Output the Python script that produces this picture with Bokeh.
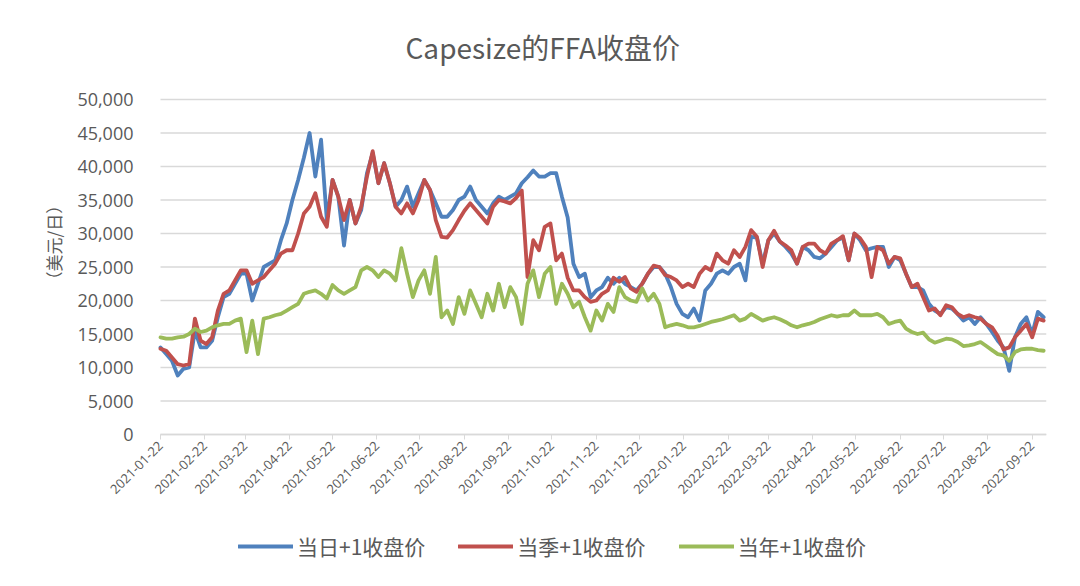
import pandas as pd
from math import pi
from bokeh.plotting import figure
from bokeh.models import (Range1d, FixedTicker, DatetimeTickFormatter, NumeralTickFormatter,
                          Legend, LegendItem, ColumnDataSource, Title)
from bokeh.embed import file_html
from bokeh.resources import INLINE

title_text = "Capesize的FFA收盘价"
y_label = "（美元/日）"
series_names = ["当日+1收盘价", "当季+1收盘价", "当年+1收盘价"]
series_colors = ["#4F81BD", "#C0504D", "#9BBB59"]

start_date = "2021-01-22"
step_days = 4
x_end = "2022-10-02"

tick_labels = ["2021-01-22", "2021-02-22", "2021-03-22", "2021-04-22", "2021-05-22",
               "2021-06-22", "2021-07-22", "2021-08-22", "2021-09-22", "2021-10-22",
               "2021-11-22", "2021-12-22", "2022-01-22", "2022-02-22", "2022-03-22",
               "2022-04-22", "2022-05-22", "2022-06-22", "2022-07-22", "2022-08-22",
               "2022-09-22"]
y_ticks = [0, 5000, 10000, 15000, 20000, 25000, 30000, 35000, 40000, 45000, 50000]

# values in thousand USD/day, one every 4 days
front_month_k = [
    13.0, 12.0, 11.0, 8.8, 9.8, 10.0, 15.5, 13.0, 13.0, 14.0,
    17.5, 20.5, 21.0, 22.5, 24.0, 24.0, 20.0, 22.5, 25.0, 25.5,
    26.0, 29.0, 31.5, 35.0, 38.0, 41.3, 45.0, 38.5, 44.0, 32.0,
    38.0, 35.5, 28.2, 35.0, 31.5, 33.5, 39.0, 42.0, 37.5, 40.5,
    37.5, 34.0, 35.0, 37.0, 34.0, 36.0, 38.0, 36.5, 34.5, 32.5,
    32.5, 33.5, 35.0, 35.5, 37.0, 35.0, 34.0, 33.0, 34.5, 35.5,
    35.0, 35.5, 36.0, 37.5, 38.4, 39.4, 38.5, 38.5, 39.0, 39.0,
    35.5, 32.4, 25.5, 23.5, 24.0, 20.5, 21.5, 22.0, 23.4, 22.5,
    23.4, 22.5, 22.0, 21.5, 22.5, 24.0, 25.0, 25.0, 24.0, 22.0,
    19.5, 18.0, 17.5, 18.8, 17.0, 21.5, 22.5, 24.0, 24.5, 24.0,
    25.0, 25.5, 23.0, 29.5, 29.4, 25.5, 29.0, 30.0, 28.8, 28.0,
    27.0, 25.5, 28.0, 27.5, 26.5, 26.3, 27.0, 28.0, 29.0, 29.4,
    26.0, 30.0, 29.0, 27.5, 27.8, 28.0, 28.0, 25.0, 26.5, 26.0,
    24.0, 22.0, 22.0, 21.5, 19.5, 18.5, 18.0, 19.0, 18.8, 18.0,
    17.0, 17.5, 16.5, 17.5, 16.5, 15.3, 14.0, 13.0, 9.5, 14.5,
    16.5, 17.5, 15.0, 18.3, 17.5,
]
front_quarter_k = [
    12.8, 12.5, 11.5, 10.5, 10.3, 10.5, 17.3, 14.0, 13.5, 14.5,
    18.5, 21.0, 21.5, 23.0, 24.5, 24.5, 22.5, 23.0, 23.5, 24.5,
    25.5, 27.0, 27.5, 27.5, 30.0, 33.0, 34.0, 36.0, 32.5, 31.0,
    38.0, 35.5, 32.0, 35.0, 31.5, 34.0, 38.5, 42.3, 37.5, 40.5,
    37.5, 34.0, 33.0, 34.5, 33.0, 35.0, 38.0, 36.5, 32.0, 29.5,
    29.4, 30.5, 32.0, 33.4, 34.5, 33.5, 32.5, 31.5, 34.0, 35.0,
    34.8, 34.5, 35.3, 36.4, 23.5, 29.0, 27.5, 31.0, 31.5, 26.0,
    27.0, 23.4, 21.5, 21.5, 20.5, 19.8, 20.0, 21.0, 21.5, 23.4,
    22.8, 23.5, 21.8, 21.3, 22.5, 24.0, 25.2, 25.0, 23.8, 23.5,
    23.0, 22.0, 22.5, 22.0, 24.0, 25.0, 24.5, 27.0, 26.0, 25.5,
    27.5, 26.5, 28.0, 30.5, 29.5, 25.0, 29.0, 30.4, 28.8, 28.2,
    27.5, 25.5, 28.0, 28.5, 28.5, 27.5, 27.0, 28.5, 29.0, 29.6,
    26.0, 30.0, 29.3, 28.0, 23.5, 28.0, 27.5, 25.5, 26.5, 26.3,
    24.0, 22.0, 22.5, 20.5, 18.5, 18.8, 17.8, 19.3, 19.0, 18.0,
    17.5, 17.8, 17.5, 17.3, 16.5, 16.0, 14.7, 12.7, 13.0, 14.5,
    15.5, 16.5, 14.5, 17.3, 17.0,
]
front_year_k = [
    14.5, 14.3, 14.3, 14.5, 14.6, 15.0, 15.8, 15.3, 15.5, 16.0,
    16.3, 16.5, 16.5, 17.0, 17.3, 12.3, 17.0, 12.0, 17.3, 17.5,
    17.8, 18.0, 18.5, 19.0, 19.5, 21.0, 21.3, 21.5, 21.0, 20.3,
    22.3, 21.5, 21.0, 21.5, 22.0, 24.5, 25.0, 24.5, 23.5, 24.5,
    24.0, 23.0, 27.8, 24.0, 20.5, 23.0, 24.5, 21.0, 26.5, 17.5,
    18.5, 16.5, 20.5, 18.0, 21.5, 19.5, 17.5, 21.0, 18.5, 22.5,
    19.0, 22.0, 20.5, 16.5, 22.5, 24.5, 20.5, 24.0, 25.0, 19.5,
    22.5, 21.0, 19.0, 19.8, 17.5, 15.5, 18.5, 17.0, 19.5, 18.3,
    22.0, 20.5, 20.0, 19.8, 21.8, 20.0, 21.0, 19.5, 16.0, 16.3,
    16.5, 16.3, 16.0, 16.0, 16.2, 16.5, 16.8, 17.0, 17.2, 17.5,
    17.8, 17.0, 17.3, 18.0, 17.5, 17.0, 17.3, 17.5, 17.2, 16.8,
    16.3, 16.0, 16.3, 16.5, 16.8, 17.2, 17.5, 17.8, 17.6, 17.8,
    17.8, 18.5, 17.8, 17.8, 17.8, 18.0, 17.5, 16.5, 16.8, 17.0,
    15.8, 15.3, 15.0, 15.2, 14.2, 13.7, 14.0, 14.3, 14.2, 13.8,
    13.2, 13.3, 13.5, 13.8, 13.2, 12.6, 12.0, 11.8, 11.0, 12.3,
    12.7, 12.8, 12.8, 12.6, 12.5,
]

n = len(front_month_k)
dates = pd.date_range(start_date, periods=n, freq=f"{step_days}D")
src = ColumnDataSource(dict(
    date=dates,
    m=[v * 1000 for v in front_month_k],
    q=[v * 1000 for v in front_quarter_k],
    y=[v * 1000 for v in front_year_k],
))

FONT_CJK = "Noto Sans CJK SC"
TXT = "#595959"
GRID = "#D9D9D9"

# Layout: the frame is extended left of the first date, above the top tick and
# below zero, so value labels, rotated date labels and the legend are inside it.
data_w, data_h = 886, 335
extra_left, extra_above, extra_below = 90, 10, 144
y_top_tick = 50000
t0, t1 = pd.Timestamp(start_date), pd.Timestamp(x_end)
span = t1 - t0
x_start = t0 - span * (extra_left / data_w)
y_bottom = -y_top_tick * extra_below / data_h
y_top = y_top_tick * (1 + extra_above / data_h)

p = figure(frame_width=data_w + extra_left, frame_height=data_h + extra_above + extra_below,
           x_axis_type="datetime", output_backend="svg", toolbar_location=None,
           x_range=Range1d(x_start, t1), y_range=Range1d(y_bottom, y_top),
           min_border_left=70, min_border_right=26, min_border_top=99 - extra_above,
           min_border_bottom=0)

p.title.text = title_text
p.title.align = "left"
p.title.offset = 245 + extra_left
p.title.text_font = FONT_CJK
p.title.text_font_size = "28px"
p.title.text_font_style = "normal"
p.title.text_color = TXT
p.title.standoff = 46

p.outline_line_color = None
p.background_fill_color = "white"
p.border_fill_color = "white"

t0_ms = t0.value // 10**6
t1_ms = t1.value // 10**6

# horizontal gridlines, only across the data area
p.ygrid.visible = False
p.xgrid.visible = False
p.segment(x0=[t0] * len(y_ticks), x1=[t1] * len(y_ticks), y0=y_ticks, y1=y_ticks,
          line_color=GRID, line_width=1.5)

# y axis drawn at the first date
p.yaxis.fixed_location = t0_ms
p.yaxis.ticker = FixedTicker(ticks=y_ticks)
p.yaxis.formatter = NumeralTickFormatter(format="0,0")
p.yaxis.axis_line_color = None
p.yaxis.major_tick_line_color = None
p.yaxis.minor_tick_line_color = None
p.yaxis.major_label_text_font = "Open Sans"
p.yaxis.major_label_text_font_size = "18px"
p.yaxis.major_label_text_color = TXT
p.yaxis.major_label_standoff = 21

ytitle = Title(text=y_label, align="left", offset=290, text_font=FONT_CJK,
               text_font_size="17px", text_font_style="normal", text_color=TXT, standoff=9)
p.add_layout(ytitle, "left")

# x axis drawn at y = 0
tick_ms = [pd.Timestamp(t).value // 10**6 for t in tick_labels]
p.xaxis.fixed_location = 0
p.xaxis.bounds = (t0_ms, t1_ms)
p.xaxis.ticker = FixedTicker(ticks=tick_ms)
fmt = "%Y-%m-%d"
p.xaxis.formatter = DatetimeTickFormatter(days=fmt, months=fmt, years=fmt, hours=fmt,
                                          hourmin=fmt, minutes=fmt, minsec=fmt,
                                          seconds=fmt, milliseconds=fmt, microseconds=fmt)
p.xaxis.major_label_orientation = pi / 4
p.xaxis.major_label_text_font = "Open Sans"
p.xaxis.major_label_text_font_size = "13px"
p.xaxis.major_label_text_color = TXT
p.xaxis.axis_line_color = GRID
p.xaxis.axis_line_width = 1.5
p.xaxis.major_tick_line_color = GRID
p.xaxis.major_tick_out = 5
p.xaxis.major_tick_in = 0
p.xaxis.minor_tick_line_color = None
p.xaxis.major_label_standoff = 4

renderers = []
for col, color in zip(["m", "q", "y"], series_colors):
    r = p.line("date", col, source=src, line_color=color, line_width=3.8,
               line_join="round", line_cap="round")
    renderers.append(r)

legend = Legend(items=[LegendItem(label=nm, renderers=[r]) for nm, r in zip(series_names, renderers)],
                orientation="horizontal", location=(78 + extra_left, 17),
                label_text_font=FONT_CJK, label_text_font_size="21px", label_text_color=TXT,
                glyph_width=55, glyph_height=20, spacing=33, label_standoff=4,
                border_line_color=None, background_fill_alpha=0, padding=10, margin=0)
p.add_layout(legend, "center")

open("out.html", "w").write(file_html(p, INLINE))
